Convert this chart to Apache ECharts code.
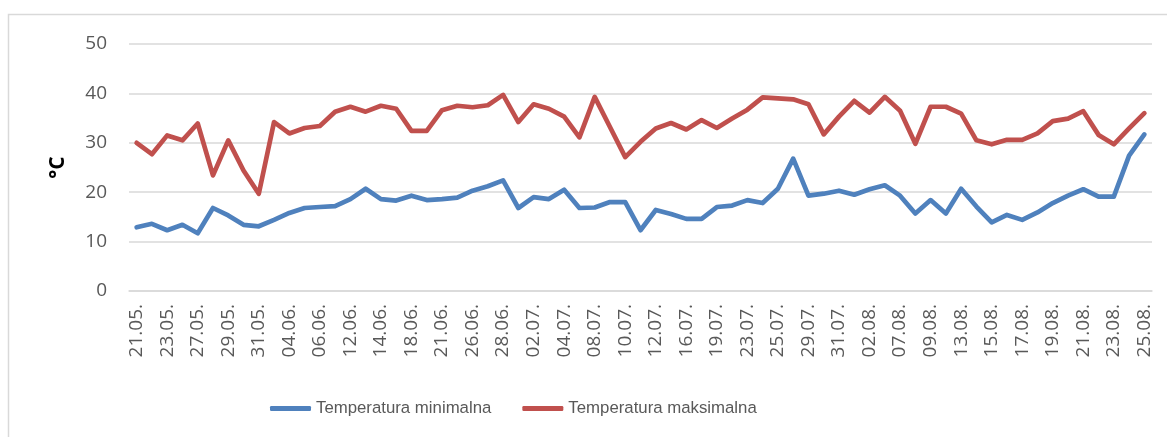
<!DOCTYPE html>
<html>
<head>
<meta charset="utf-8">
<script src="https://cdn.jsdelivr.net/npm/echarts@6/dist/echarts.min.js"></script>
<style>
html,body{margin:0;padding:0;background:#fff;}
#chart{width:1167px;height:437px;}
</style>
</head>
<body>
<div id="chart"></div>
<script>
const dates = ["21.05.","22.05.","23.05.","25.05.","27.05.","28.05.","29.05.","30.05.","31.05.","02.06.",
  "04.06.","05.06.","06.06.","10.06.","12.06.","13.06.","14.06.","16.06.","18.06.","20.06.",
  "21.06.","24.06.","26.06.","27.06.","28.06.","30.06.","02.07.","03.07.","04.07.","06.07.",
  "08.07.","09.07.","10.07.","11.07.","12.07.","14.07.","16.07.","18.07.","19.07.","21.07.",
  "23.07.","24.07.","25.07.","27.07.","29.07.","30.07.","31.07.","01.08.","02.08.","05.08.",
  "07.08.","08.08.","09.08.","11.08.","13.08.","14.08.","15.08.","16.08.","17.08.","18.08.",
  "19.08.","20.08.","21.08.","22.08.","23.08.","24.08.","25.08."];

const tempMin = [12.9,13.6,12.3,13.4,11.7,16.8,15.3,13.4,13.1,14.4,
  15.8,16.8,17.0,17.2,18.6,20.7,18.6,18.3,19.3,18.4,
  18.6,18.9,20.3,21.2,22.4,16.8,19.0,18.6,20.5,16.8,
  16.9,18.0,18.0,12.3,16.4,15.6,14.6,14.6,17.0,17.3,
  18.4,17.8,20.7,26.8,19.3,19.7,20.3,19.5,20.6,21.4,
  19.3,15.7,18.4,15.7,20.7,17.1,13.9,15.4,14.4,15.9,
  17.8,19.3,20.6,19.1,19.1,27.4,31.7];

const tempMax = [30.0,27.7,31.5,30.5,33.9,23.4,30.5,24.4,19.7,34.2,
  31.9,33.0,33.4,36.3,37.3,36.3,37.5,36.9,32.4,32.4,
  36.6,37.5,37.2,37.6,39.7,34.2,37.8,36.9,35.3,31.1,
  39.3,33.2,27.1,30.2,32.9,34.0,32.7,34.6,33.0,34.9,
  36.7,39.2,39.0,38.8,37.8,31.7,35.3,38.5,36.1,39.3,
  36.5,29.8,37.3,37.3,35.9,30.5,29.7,30.6,30.6,31.9,
  34.4,34.9,36.4,31.6,29.7,32.9,36.0];

const seriesNames = ["Temperatura minimalna","Temperatura maksimalna"];
const yTicks = {min:0, max:50, interval:10};

const FONT = "'Open Sans', 'Liberation Sans', sans-serif";
const LFONT = "'Liberation Sans', Arial, sans-serif";
const chart = echarts.init(document.getElementById('chart'), null, {renderer:'canvas'});
chart.setOption({
  animation:false,
  backgroundColor:'#fff',
  graphic:[{
    type:'rect', silent:true, z:-1,
    shape:{x:8.5, y:14.5, width:1400, height:700},
    style:{fill:'none', stroke:'#d9d9d9', lineWidth:1.5}
  }],
  grid:{left:129, right:15, top:44, bottom:146},
  legend:{
    data:seriesNames,
    left:265, top:395,
    icon:'roundRect',
    itemWidth:41, itemHeight:5, itemGap:31,
    textStyle:{fontFamily:LFONT, fontSize:16.8, color:'#595959'}
  },
  xAxis:{
    type:'category',
    data:dates,
    boundaryGap:true,
    axisLine:{show:true, lineStyle:{color:'#d9d9d9', width:1.5}},
    axisTick:{show:false},
    axisLabel:{rotate:90, interval:1, margin:13, color:'#595959', fontFamily:FONT, fontSize:19}
  },
  yAxis:{
    type:'value',
    min:yTicks.min, max:yTicks.max, interval:yTicks.interval,
    name:'°C',
    nameLocation:'middle',
    nameGap:60,
    nameTextStyle:{fontFamily:FONT, fontSize:21, fontWeight:'bold', color:'#000'},
    axisLine:{show:false},
    axisTick:{show:false},
    axisLabel:{margin:22, color:'#595959', fontFamily:FONT, fontSize:19},
    splitLine:{lineStyle:{color:'#d9d9d9', width:1.5}}
  },
  series:[
    {name:seriesNames[0], type:'line', data:tempMin, symbol:'none', smooth:false,
     itemStyle:{color:'#4f81bd'},
     lineStyle:{color:'#4f81bd', width:4.7, cap:'round', join:'round'}},
    {name:seriesNames[1], type:'line', data:tempMax, symbol:'none', smooth:false,
     itemStyle:{color:'#c0504d'},
     lineStyle:{color:'#c0504d', width:4.7, cap:'round', join:'round'}}
  ]
});
</script>
</body>
</html>
